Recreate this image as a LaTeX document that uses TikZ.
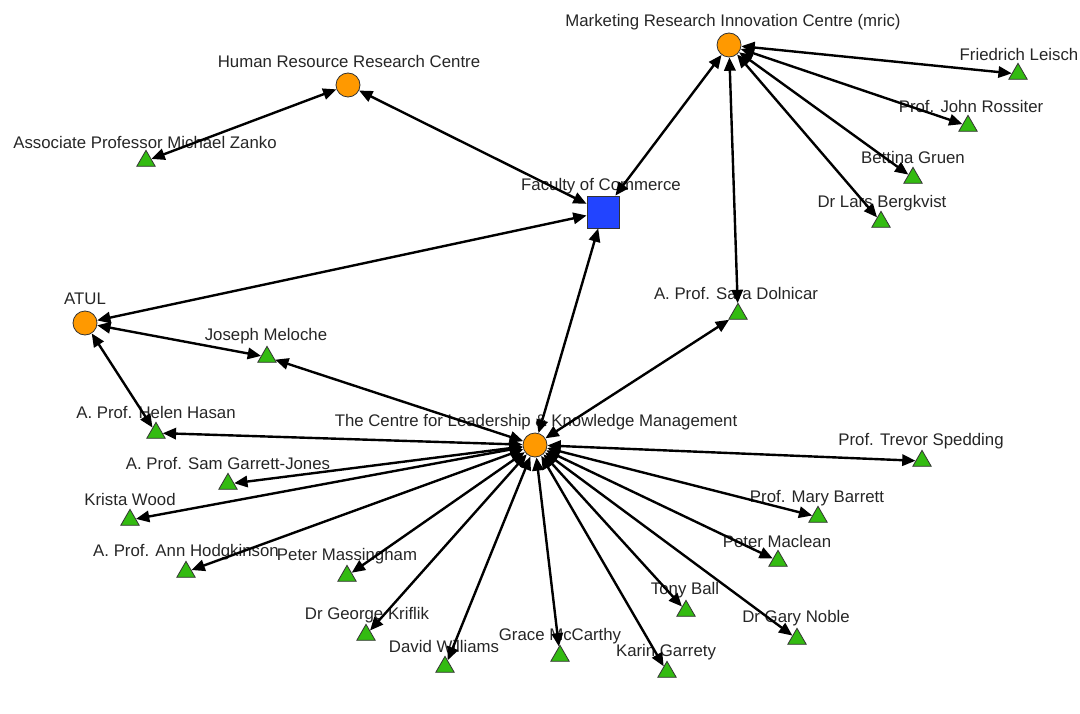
\documentclass[tikz,border=0pt]{standalone}
\usepackage{fontspec}
\setmainfont{Liberation Sans}
\usetikzlibrary{arrows.meta,shapes.geometric}
\definecolor{orng}{RGB}{255,153,0}
\definecolor{grn}{RGB}{51,187,17}
\definecolor{blu}{RGB}{34,68,255}
\tikzset{
 hub/.style={circle,draw=black!80,fill=orng,minimum size=18pt,inner sep=0pt,line width=0.6pt},
 tri/.style={regular polygon,regular polygon sides=3,draw=black!80,fill=grn,minimum size=16pt,inner sep=0pt,line width=0.6pt},
 sq/.style={rectangle,draw=black!80,fill=blu,minimum size=24pt,inner sep=0pt,line width=0.6pt},
 lbl/.style={font=\fontsize{12.6}{14}\selectfont,text=black!85,inner sep=0pt},
 link/.style={line width=1.8pt,{Triangle[length=10pt,width=8.5pt]}-{Triangle[length=10pt,width=8.5pt]}},
}
\newcommand\person[4]{\node[tri] (#1) at (#2) {}; \node[lbl] (#1-l) at (#3) {#4};}
\begin{document}
\begin{tikzpicture}[x=0.75pt,y=-0.75pt]
\useasboundingbox (0,0) rectangle (1080,713);
% hubs
\node[hub] (mric) at (729,45) {};
\node[lbl] (mric-l) at (733,22) {Marketing Research Innovation Centre (mric)};
\node[hub] (hrrc) at (348,85) {};
\node[lbl] (hrrc-l) at (349,61) {Human Resource Research Centre};
\node[sq] (fac) at (603,212) {};
\node[lbl] (fac-l) at (601,186) {Faculty of Commerce};
\node[hub] (atul) at (85,323) {};
\node[lbl] (atul-l) at (85,299) {ATUL};
\node[hub] (clkm) at (535,445) {};
\node[lbl] (clkm-l) at (536,422) {The Centre for Leadership \& Knowledge Management};
% people
\person{leisch}{1018,74}{1019,54}{Friedrich Leisch}
\person{rossiter}{968,126}{971,106}{Prof. John Rossiter}
\person{gruen}{913,178}{913,157}{Bettina Gruen}
\person{bergkvist}{881,222}{882,203}{Dr Lars Bergkvist}
\person{dolnicar}{738,314}{736,293}{A. Prof. Sara Dolnicar}
\person{zanko}{146,161}{145,142}{Associate Professor Michael Zanko}
\person{meloche}{267,357}{266,336}{Joseph Meloche}
\person{hasan}{156,433}{156,412}{A. Prof. Helen Hasan}
\person{garrett}{228,484}{228,463}{A. Prof. Sam Garrett-Jones}
\person{wood}{130,520}{130,499}{Krista Wood}
\person{hodgkinson}{186,572}{186,552}{A. Prof. Ann Hodgkinson}
\person{massingham}{347,576}{347,556}{Peter Massingham}
\person{kriflik}{366,635}{367,615}{Dr George Kriflik}
\person{williams}{445,667}{444,646}{David Williams}
\person{mccarthy}{560,656}{560,636}{Grace McCarthy}
\person{garrety}{667,672}{666,652}{Karin Garrety}
\person{ball}{686,611}{685,590}{Tony Ball}
\person{noble}{797,639}{796,618}{Dr Gary Noble}
\person{maclean}{778,561}{777,541}{Peter Maclean}
\person{barrett}{818,517}{817,498}{Prof. Mary Barrett}
\person{spedding}{922,461}{921,441}{Prof. Trevor Spedding}
% links
\foreach \a/\b in {hrrc/zanko,hrrc/fac,fac/mric,fac/atul,fac/clkm,
  mric/leisch,mric/rossiter,mric/gruen,mric/bergkvist,mric/dolnicar,
  clkm/dolnicar,atul/meloche,clkm/meloche,atul/hasan,clkm/hasan,
  clkm/garrett,clkm/wood,clkm/hodgkinson,clkm/massingham,clkm/kriflik,
  clkm/williams,clkm/mccarthy,clkm/garrety,clkm/ball,clkm/noble,
  clkm/maclean,clkm/barrett,clkm/spedding}
  \draw[link] (\a) -- (\b);
\end{tikzpicture}
\end{document}
